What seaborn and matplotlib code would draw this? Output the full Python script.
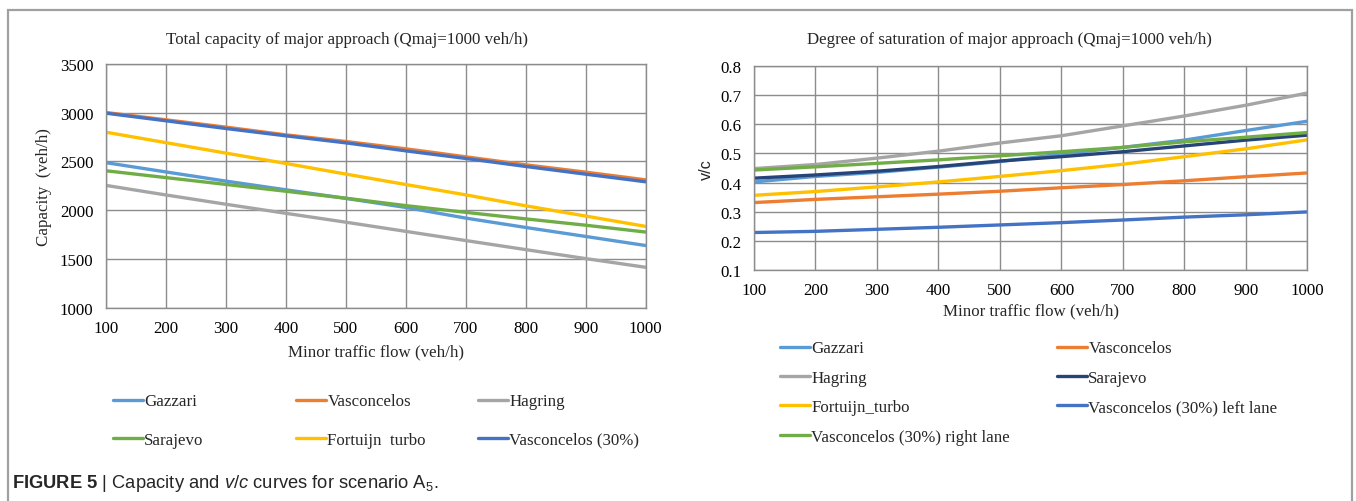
import numpy as np
import pandas as pd
import matplotlib
matplotlib.use("Agg")
import matplotlib.pyplot as plt
from matplotlib.lines import Line2D
from matplotlib.patches import Rectangle
import seaborn as sns

# ---------------- data ----------------
minor_flow = [100, 200, 300, 400, 500, 600, 700, 800, 900, 1000]

# left panel: total capacity (veh/h)
cap_gazzari = [2486, 2391, 2297, 2208, 2120, 2027, 1918, 1822, 1730, 1637]
cap_vasconcelos = [3000, 2925, 2850, 2771, 2703, 2628, 2546, 2464, 2389, 2310]
cap_hagring = [2253, 2155, 2060, 1967, 1876, 1782, 1688, 1595, 1503, 1414]
cap_sarajevo = [2403, 2333, 2263, 2193, 2122, 2046, 1977, 1910, 1845, 1775]
cap_fortuijn = [2798, 2691, 2584, 2478, 2369, 2262, 2156, 2044, 1939, 1833]
cap_vasc30 = [2993, 2915, 2836, 2761, 2689, 2607, 2529, 2447, 2368, 2290]

left_series = ["Gazzari", "Vasconcelos", "Hagring", "Sarajevo",
               "Fortuijn  turbo", "Vasconcelos (30%)"]
left_values = [cap_gazzari, cap_vasconcelos, cap_hagring, cap_sarajevo,
               cap_fortuijn, cap_vasc30]
left_colors = ["#5B9BD5", "#ED7D31", "#A5A5A5", "#70AD47", "#FFC000", "#4472C4"]

# right panel: degree of saturation v/c
vc_gazzari = [0.402, 0.421, 0.435, 0.453, 0.472, 0.498, 0.521, 0.546, 0.579, 0.611]
vc_vasconcelos = [0.331, 0.342, 0.351, 0.360, 0.370, 0.382, 0.393, 0.406, 0.420, 0.433]
vc_hagring = [0.448, 0.462, 0.484, 0.508, 0.536, 0.561, 0.595, 0.629, 0.666, 0.708]
vc_sarajevo = [0.415, 0.426, 0.439, 0.455, 0.474, 0.489, 0.506, 0.526, 0.546, 0.563]
vc_fortuijn = [0.356, 0.369, 0.385, 0.402, 0.421, 0.441, 0.463, 0.489, 0.516, 0.547]
vc_vasc30_left = [0.228, 0.232, 0.239, 0.246, 0.254, 0.262, 0.271, 0.281, 0.289, 0.299]
vc_vasc30_right = [0.443, 0.454, 0.466, 0.478, 0.492, 0.506, 0.521, 0.540, 0.556, 0.572]

right_series = ["Gazzari", "Vasconcelos", "Hagring", "Sarajevo", "Fortuijn_turbo",
                "Vasconcelos (30%) left lane", "Vasconcelos (30%) right lane"]
right_values = [vc_gazzari, vc_vasconcelos, vc_hagring, vc_sarajevo, vc_fortuijn,
                vc_vasc30_left, vc_vasc30_right]
right_colors = ["#5B9BD5", "#ED7D31", "#A5A5A5", "#264478", "#FFC000",
                "#4472C4", "#70AD47"]

x_ticks = [100, 200, 300, 400, 500, 600, 700, 800, 900, 1000]
left_yticks = [1000, 1500, 2000, 2500, 3000, 3500]
right_yticks = [0.1, 0.2, 0.3, 0.4, 0.5, 0.6, 0.7, 0.8]
right_yticklabels = ["0.1", "0.2", "0.3", "0.4", "0.5", "0.6", "0.7", "0.8"]

# ---------------- style ----------------
sns.set_style("white")
plt.rcParams["font.family"] = ["Liberation Serif", "DejaVu Serif"]
plt.rcParams["mathtext.fontset"] = "custom"
plt.rcParams["mathtext.rm"] = "Liberation Sans"
plt.rcParams["mathtext.it"] = "Liberation Sans:italic"
plt.rcParams["mathtext.bf"] = "Liberation Sans:bold"

W, H = 1356, 502
fig = plt.figure(figsize=(W / 100, H / 100), dpi=100)
fig.patch.set_facecolor("white")

def fx(px):
    return px / W

def fy(py):
    return 1 - py / H

GRID = "#8C8C8C"
FS = 12.2
LW = 2.4

def long_df(series, values):
    rows = []
    for name, vals in zip(series, values):
        for xv, yv in zip(minor_flow, vals):
            rows.append((name, xv, yv))
    return pd.DataFrame(rows, columns=["series", "flow", "value"])

def style_axes(ax):
    ax.set_axisbelow(True)
    ax.grid(True, color=GRID, linewidth=1.0)
    for sp in ax.spines.values():
        sp.set_color(GRID)
        sp.set_linewidth(1.0)
    ax.tick_params(axis="both", which="both", direction="out", length=5,
                   width=1.0, color=GRID, labelsize=FS, labelcolor="black")
    ax.tick_params(axis="x", pad=4)
    ax.tick_params(axis="y", pad=4)
    ax.set_xlabel("")
    ax.set_ylabel("")

# ---------------- left panel ----------------
axL = fig.add_axes([fx(106), fy(308.7), fx(645.7) - fx(106), fy(64.7) - fy(308.7)])
dfL = long_df(left_series, left_values)
sns.lineplot(data=dfL, x="flow", y="value", hue="series", hue_order=left_series,
             palette=dict(zip(left_series, left_colors)), linewidth=LW,
             legend=False, ax=axL, sort=False)
axL.set_xlim(100, 1000)
axL.set_ylim(1000, 3500)
axL.set_xticks(x_ticks)
axL.set_yticks(left_yticks)
style_axes(axL)

fig.text(fx(347.5), fy(40), "Total capacity of major approach (Qmaj=1000 veh/h)",
         ha="center", va="center", fontsize=FS)
fig.text(fx(376), fy(352), "Minor traffic flow (veh/h)", ha="center", va="center",
         fontsize=FS)
fig.text(fx(44), fy(187), "Capacity  (veh/h)", ha="center", va="center",
         rotation=90, fontsize=FS)

# legend (3 columns, 2 rows)
lmap = dict(zip(left_series, left_colors))
left_cols = [["Gazzari", "Sarajevo"], ["Vasconcelos", "Fortuijn  turbo"],
             ["Hagring", "Vasconcelos (30%)"]]
left_col_x = [113, 296, 478]
for names, xpos in zip(left_cols, left_col_x):
    hs = [Line2D([], [], color=lmap[n], linewidth=LW) for n in names]
    fig.legend(hs, names, loc="upper left", bbox_to_anchor=(fx(xpos), fy(394.5)),
               frameon=False, borderpad=0, borderaxespad=0, handlelength=1.75,
               handletextpad=0.1, labelspacing=1.30, fontsize=FS)

# ---------------- right panel ----------------
axR = fig.add_axes([fx(754), fy(270.7), fx(1307.3) - fx(754), fy(67.3) - fy(270.7)])
dfR = long_df(right_series, right_values)
sns.lineplot(data=dfR, x="flow", y="value", hue="series", hue_order=right_series,
             palette=dict(zip(right_series, right_colors)), linewidth=LW,
             legend=False, ax=axR, sort=False)
axR.set_xlim(100, 1000)
axR.set_ylim(0.1, 0.8)
axR.set_xticks(x_ticks)
axR.set_yticks(right_yticks)
axR.set_yticklabels(right_yticklabels)
style_axes(axR)

fig.text(fx(1009.5), fy(40), "Degree of saturation of major approach (Qmaj=1000 veh/h)",
         ha="center", va="center", fontsize=FS)
fig.text(fx(1031), fy(311), "Minor traffic flow (veh/h)", ha="center", va="center",
         fontsize=FS)
fig.text(fx(706), fy(170), "v/c", ha="center", va="center", rotation=90,
         fontsize=FS - 0.5, family=["Liberation Sans", "DejaVu Sans"])

rmap = dict(zip(right_series, right_colors))
right_cols = [["Gazzari", "Hagring", "Fortuijn_turbo", "Vasconcelos (30%) right lane"],
              ["Vasconcelos", "Sarajevo", "Vasconcelos (30%) left lane"]]
right_col_x = [780, 1057]
for names, xpos in zip(right_cols, right_col_x):
    hs = [Line2D([], [], color=rmap[n], linewidth=LW) for n in names]
    fig.legend(hs, names, loc="upper left", bbox_to_anchor=(fx(xpos), fy(341.5)),
               frameon=False, borderpad=0, borderaxespad=0, handlelength=1.75,
               handletextpad=0.1, labelspacing=0.79, fontsize=FS)

# ---------------- frame and caption ----------------
fig.patches.append(Rectangle((fx(8), fy(H + 20)), fx(1352) - fx(8), fy(10.5) - fy(H + 20),
                             transform=fig.transFigure, fill=False,
                             edgecolor="#A0A0A0", linewidth=1.6, zorder=0))
fig.text(fx(12), fy(484),
         r"$\mathbf{FIGURE\ 5}$ | Capacity and $\mathit{v/c}$ curves for scenario A$_5$.",
         ha="left", va="center", fontsize=13.2,
         family=["Liberation Sans", "DejaVu Sans"])

fig.savefig("out.png", dpi=100, facecolor="white")
